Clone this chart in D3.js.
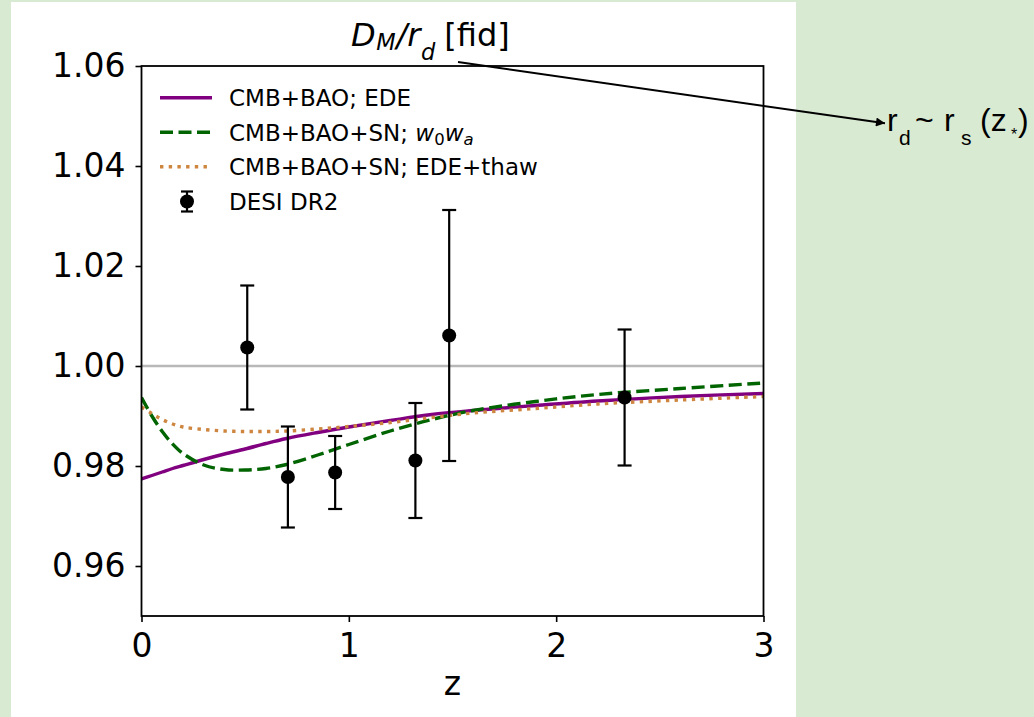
<!DOCTYPE html>
<html>
<head>
<meta charset="utf-8">
<script src="https://cdn.jsdelivr.net/npm/d3@7"></script>
<style>
  html, body { margin: 0; padding: 0; background: #d9ead3; }
  svg { display: block; }
</style>
</head>
<body>
<div id="chart"></div>
<script>
// Redshift grid on which the model curves are sampled
const zGrid = [0, 0.05, 0.1, 0.15, 0.2, 0.3, 0.4, 0.5, 0.6, 0.7, 0.85, 1.0, 1.2, 1.4, 1.6, 1.9, 2.2, 2.6, 3.0];

// D_M/r_d relative to fiducial, per model
const edeCmbBao = [0.9774, 0.9781, 0.9788, 0.9795, 0.9801, 0.9813, 0.9824, 0.9834, 0.9845, 0.9855, 0.9867, 0.9878, 0.9891, 0.9903, 0.9911, 0.9921, 0.9930, 0.9939, 0.9945];
const w0waCmbBaoSn = [0.9937, 0.9900, 0.9869, 0.9844, 0.9825, 0.9802, 0.9793, 0.9792, 0.9795, 0.9803, 0.9822, 0.9843, 0.9870, 0.9893, 0.9911, 0.9929, 0.9943, 0.9955, 0.9966];
const edeThawCmbBaoSn = [0.9918, 0.9905, 0.9893, 0.9884, 0.9878, 0.9873, 0.9870, 0.9869, 0.9869, 0.9870, 0.9874, 0.9879, 0.9887, 0.9897, 0.9906, 0.9915, 0.9924, 0.9932, 0.9939];

// DESI DR2 BAO measurements
const desiZ = [0.510, 0.706, 0.934, 1.321, 1.484, 2.330];
const desiVal = [1.0037, 0.9778, 0.9787, 0.9811, 1.0061, 0.9937];
const desiErr = [0.0124, 0.0101, 0.0073, 0.0115, 0.0251, 0.0136];

// Axis ticks
const xTicks = [0, 1, 2, 3];
const yTicks = [0.96, 0.98, 1.00, 1.02, 1.04, 1.06];

const legendLabels = ["CMB+BAO; EDE", "CMB+BAO+SN; ", "CMB+BAO+SN; EDE+thaw", "DESI DR2"];

const W = 1034, H = 717;
const plot = { left: 141.5, right: 763.5, top: 66, bottom: 616 };
const FONT = "'DejaVu Sans', sans-serif";

const svg = d3.select("#chart").append("svg")
  .attr("width", W).attr("height", H)
  .attr("viewBox", `0 0 ${W} ${H}`);

// slide background and white figure panel
svg.append("rect").attr("width", W).attr("height", H).attr("fill", "#d9ead3");
svg.append("rect").attr("x", 11).attr("y", 2).attr("width", 785).attr("height", H - 2).attr("fill", "#ffffff");

const x = d3.scaleLinear().domain([0, 3]).range([plot.left, plot.right]);
const y = d3.scaleLinear().domain([0.95, 1.06]).range([plot.bottom, plot.top]);

// reference line at unity
svg.append("line")
  .attr("x1", x(0)).attr("x2", x(3))
  .attr("y1", y(1)).attr("y2", y(1))
  .attr("stroke", "#b8b8b8").attr("stroke-width", 2.5);

const line = d3.line().x(d => x(d[0])).y(d => y(d[1])).curve(d3.curveCatmullRom.alpha(0.5));
const series = [
  { vals: edeCmbBao, color: "#800080", dash: null },
  { vals: w0waCmbBaoSn, color: "#006400", dash: "13,5.5" },
  { vals: edeThawCmbBaoSn, color: "#cd853f", dash: "3.4,5.3" }
];

svg.append("clipPath").attr("id", "plotclip")
  .append("rect").attr("x", plot.left).attr("y", plot.top)
  .attr("width", plot.right - plot.left).attr("height", plot.bottom - plot.top);

const curves = svg.append("g").attr("clip-path", "url(#plotclip)");
series.forEach(s => {
  curves.append("path")
    .datum(zGrid.map((z, i) => [z, s.vals[i]]))
    .attr("d", line)
    .attr("fill", "none")
    .attr("stroke", s.color)
    .attr("stroke-width", 3.4)
    .attr("stroke-dasharray", s.dash);
});

// error bars with caps and markers
const capHalf = 7;
const pts = svg.append("g");
desiZ.forEach((z, i) => {
  const cx = x(z), lo = y(desiVal[i] - desiErr[i]), hi = y(desiVal[i] + desiErr[i]);
  pts.append("line").attr("x1", cx).attr("x2", cx).attr("y1", lo).attr("y2", hi)
    .attr("stroke", "#000").attr("stroke-width", 2.2);
  [lo, hi].forEach(yy => pts.append("line")
    .attr("x1", cx - capHalf).attr("x2", cx + capHalf).attr("y1", yy).attr("y2", yy)
    .attr("stroke", "#000").attr("stroke-width", 2.2));
  pts.append("circle").attr("cx", cx).attr("cy", y(desiVal[i])).attr("r", 7).attr("fill", "#000");
});

// axes
const yAxis = d3.axisLeft(y).tickValues(yTicks).tickFormat(d3.format(".2f")).tickSize(6).tickPadding(10);
const xAxis = d3.axisBottom(x).tickValues(xTicks).tickFormat(d3.format("d")).tickSize(6).tickPadding(12);

const gy = svg.append("g").attr("transform", `translate(${plot.left},0)`).call(yAxis);
const gx = svg.append("g").attr("transform", `translate(0,${plot.bottom})`).call(xAxis);
[gx, gy].forEach(g => {
  g.select(".domain").remove();
  g.selectAll(".tick line").attr("stroke", "#000").attr("stroke-width", 1.6);
  g.selectAll(".tick text").attr("fill", "#000").style("font-family", FONT).style("font-size", "33px");
});

// frame
svg.append("rect")
  .attr("x", plot.left).attr("y", plot.top)
  .attr("width", plot.right - plot.left).attr("height", plot.bottom - plot.top)
  .attr("fill", "none").attr("stroke", "#000").attr("stroke-width", 1.8);

// x label
svg.append("text").attr("x", (plot.left + plot.right) / 2).attr("y", 695)
  .attr("text-anchor", "middle").style("font-family", FONT).style("font-size", "33px")
  .text("z");

// title: D_M/r_d [fid]
const title = svg.append("text").attr("x", 351).attr("y", 46)
  .style("font-family", FONT).style("font-size", "32px").attr("fill", "#000");
title.append("tspan").attr("font-style", "italic").text("D");
title.append("tspan").attr("font-style", "italic").attr("font-size", "22.5px").attr("dx", 0.5).attr("dy", 4).text("M");
title.append("tspan").attr("font-style", "italic").attr("dx", 1).attr("dy", -4).text("/r");
title.append("tspan").attr("font-style", "italic").attr("font-size", "22.5px").attr("dx", 0.5).attr("dy", 14).text("d");
title.append("tspan").attr("dx", 9).attr("dy", -14).text("[fid]");

// legend
const lg = svg.append("g").style("font-family", FONT).style("font-size", "23px");
const rowY = [97.7, 132.3, 166.7, 201.5];
series.forEach((s, i) => {
  lg.append("line").attr("x1", 160).attr("x2", 212).attr("y1", rowY[i]).attr("y2", rowY[i])
    .attr("stroke", s.color).attr("stroke-width", 3.4).attr("stroke-dasharray", s.dash);
});
// errorbar handle
lg.append("line").attr("x1", 187).attr("x2", 187).attr("y1", rowY[3] - 10).attr("y2", rowY[3] + 10)
  .attr("stroke", "#000").attr("stroke-width", 2.2);
[rowY[3] - 10, rowY[3] + 10].forEach(yy => lg.append("line")
  .attr("x1", 181).attr("x2", 193).attr("y1", yy).attr("y2", yy).attr("stroke", "#000").attr("stroke-width", 2.2));
lg.append("circle").attr("cx", 187).attr("cy", rowY[3]).attr("r", 7).attr("fill", "#000");

legendLabels.forEach((t, i) => {
  const tx = lg.append("text").attr("x", 229).attr("y", rowY[i] + 8.3).attr("fill", "#000").text(t);
  if (i === 1) {
    tx.append("tspan").attr("font-style", "italic").text("w");
    tx.append("tspan").attr("font-size", "16.5px").attr("dy", 4).text("0");
    tx.append("tspan").attr("font-style", "italic").attr("dy", -4).text("w");
    tx.append("tspan").attr("font-style", "italic").attr("font-size", "16.5px").attr("dy", 4).text("a");
  }
});

// annotation arrow from the title to the sound-horizon note
const defs = svg.append("defs");
defs.append("marker").attr("id", "arrowhead")
  .attr("viewBox", "0 0 10 10").attr("refX", 10).attr("refY", 5)
  .attr("markerWidth", 6.5).attr("markerHeight", 4.5).attr("markerUnits", "strokeWidth")
  .attr("orient", "auto")
  .append("path").attr("d", "M0,0 L10,5 L0,10 Z").attr("fill", "#000");
svg.append("line")
  .attr("x1", 458).attr("y1", 62).attr("x2", 885).attr("y2", 123.3)
  .attr("stroke", "#000").attr("stroke-width", 2).attr("marker-end", "url(#arrowhead)");

const note = svg.append("text").attr("y", 131)
  .style("font-family", "'Liberation Sans', Arial, sans-serif").style("font-size", "32px").attr("fill", "#000");
note.append("tspan").attr("x", 887).text("r");
note.append("tspan").attr("x", 899).attr("dy", 14).attr("font-size", "21px").text("d");
note.append("tspan").attr("x", 915).attr("dy", -14).text("~");
note.append("tspan").attr("x", 944).text("r");
note.append("tspan").attr("x", 961).attr("dy", 14).attr("font-size", "21px").text("s");
note.append("tspan").attr("x", 980).attr("dy", -14).text("(z");
note.append("tspan").attr("x", 1011).attr("dy", 9).attr("font-size", "16px").text("*");
note.append("tspan").attr("x", 1018).attr("dy", -9).text(")");
</script>
</body>
</html>
